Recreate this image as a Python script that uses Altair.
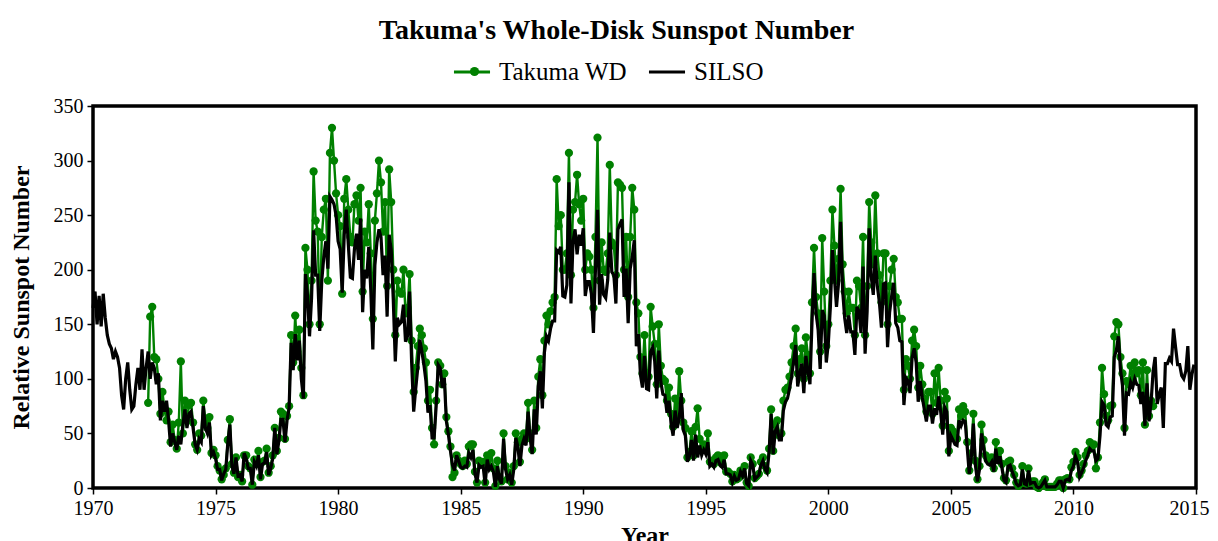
import altair as alt
import pandas as pd

SERIES = ["Takuma WD", "SILSO"]
COLORS = ["#008000", "#000000"]

# SILSO monthly values, Jan 1970 .. Dec 2014
silso_1970s = [
    165, 180, 150, 176, 148, 178, 156, 140, 132, 128, 118, 125,
    120, 110, 85, 72, 100, 115, 90, 72, 75, 95, 110, 90,
    127, 90, 110, 125, 100, 115, 110, 95, 105, 62, 80, 70,
    80, 62, 38, 50, 42, 35, 48, 40, 58, 72, 55, 68,
    70, 55, 40, 35, 45, 42, 75, 55, 50, 60, 30, 33,
    27, 17, 17, 7, 13, 17, 41, 58, 20, 13, 28, 11,
    12, 6, 32, 27, 18, 18, 3, 24, 20, 30, 8, 22,
    23, 33, 12, 18, 27, 55, 31, 43, 63, 63, 42, 62,
    73, 133, 108, 141, 117, 135, 100, 82, 196, 177, 139, 174,
    236, 195, 195, 144, 190, 212, 226, 201, 267, 264, 260, 250,
]
silso_1980s = [
    226, 219, 179, 232, 255, 223, 193, 192, 219, 233, 209, 247,
    161, 200, 192, 221, 181, 127, 204, 225, 237, 230, 195, 213,
    157, 232, 218, 173, 116, 156, 150, 152, 168, 134, 139, 180,
    115, 70, 91, 110, 136, 125, 113, 98, 69, 76, 46, 46,
    75, 113, 110, 92, 101, 61, 49, 34, 21, 16, 30, 25,
    19, 18, 20, 19, 32, 28, 35, 13, 5, 21, 19, 20,
    3, 26, 17, 20, 15, 1, 20, 8, 4, 45, 17, 8,
    12, 3, 17, 46, 38, 20, 39, 45, 39, 70, 46, 31,
    72, 49, 93, 107, 73, 124, 139, 135, 146, 153, 153, 218,
    216, 221, 176, 175, 186, 280, 169, 226, 237, 214, 232, 222,
]
silso_1990s = [
    238, 176, 189, 189, 178, 142, 201, 255, 168, 196, 177, 174,
    191, 234, 198, 195, 169, 237, 242, 246, 175, 201, 151, 201,
    212, 227, 130, 141, 104, 92, 121, 91, 90, 125, 129, 116,
    82, 126, 97, 86, 85, 69, 80, 59, 48, 71, 55, 64,
    87, 53, 48, 24, 29, 44, 25, 49, 28, 39, 30, 35,
    31, 42, 20, 22, 19, 25, 26, 21, 19, 26, 13, 13,
    12, 5, 11, 7, 8, 15, 11, 18, 4, 2, 25, 21,
    8, 10, 12, 21, 25, 17, 14, 33, 68, 31, 52, 56,
    44, 44, 71, 79, 82, 91, 102, 116, 131, 93, 105, 114,
    87, 121, 107, 95, 152, 197, 160, 145, 109, 163, 158, 115,
]
silso_2000s = [
    133, 166, 218, 192, 166, 188, 244, 181, 156, 142, 158, 143,
    143, 122, 166, 162, 142, 203, 123, 162, 238, 194, 177, 213,
    185, 170, 147, 187, 188, 129, 161, 176, 188, 151, 147, 135,
    134, 76, 101, 98, 87, 119, 128, 115, 79, 98, 83, 72,
    61, 75, 75, 59, 73, 67, 84, 70, 49, 74, 70, 29,
    48, 44, 40, 39, 62, 57, 62, 61, 37, 13, 28, 59,
    21, 6, 17, 50, 37, 25, 22, 21, 24, 15, 36, 22,
    29, 18, 7, 5, 20, 21, 15, 10, 4, 2, 3, 17,
    4, 3, 16, 4, 5, 5, 1, 0, 1, 4, 7, 1,
    1, 1, 1, 1, 3, 6, 6, 0, 7, 8, 7, 16,
]
silso_2010s = [
    20, 29, 24, 10, 14, 19, 25, 30, 36, 34, 34, 25,
    27, 48, 79, 76, 58, 56, 65, 66, 120, 126, 139, 109,
    94, 48, 87, 86, 97, 92, 100, 95, 94, 77, 88, 57,
    96, 61, 78, 107, 120, 77, 86, 92, 55, 114, 114, 119,
    116, 146, 129, 113, 113, 103, 100, 107, 130, 90, 104, 113,
]

# Takuma whole-disk monthly values, Apr 1972 .. Apr 2013
takuma_1970s = [
    78, 157, 166, 120, 118, 100, 68, 88, 72,
    62, 70, 42, 58, 44, 36, 60, 116, 50, 80, 62, 76,
    78, 60, 40, 35, 50, 48, 80, 62, 55, 65, 32, 35,
    30, 20, 16, 8, 12, 18, 44, 63, 22, 14, 28, 10,
    12, 6, 30, 30, 20, 18, 3, 26, 22, 34, 10, 24,
    25, 36, 14, 20, 30, 55, 34, 46, 70, 68, 45, 66,
    75, 140, 115, 158, 125, 145, 110, 85, 220, 200, 150, 190,
    290, 245, 235, 150, 230, 255, 265, 190, 307, 330, 300, 270,
]
takuma_1980s = [
    250, 240, 178, 265, 283, 255, 230, 225, 260, 268, 245, 275,
    180, 235, 225, 260, 215, 155, 245, 270, 300, 280, 235, 262,
    185, 292, 262, 200, 140, 190, 180, 178, 200, 160, 165, 196,
    135, 88, 110, 130, 146, 140, 128, 115, 80, 90, 55, 40,
    80, 115, 112, 95, 105, 65, 52, 38, 10, 14, 30, 25,
    22, 20, 25, 22, 38, 40, 40, 15, 5, 25, 22, 24,
    5, 30, 20, 32, 18, 2, 25, 10, 6, 50, 20, 8,
    14, 5, 20, 50, 42, 24, 45, 50, 45, 78, 50, 35,
    80, 55, 102, 118, 85, 135, 158, 150, 162, 170, 175, 283,
    240, 250, 200, 200, 215, 307, 195, 255, 262, 287, 260, 245,
]
takuma_1990s = [
    265, 200, 215, 212, 200, 165, 230, 321, 190, 225, 200, 198,
    215, 296, 225, 222, 195, 280, 278, 275, 200, 230, 175, 230,
    275, 255, 170, 160, 120, 105, 140, 105, 102, 166, 148, 132,
    95, 150, 112, 100, 98, 80, 92, 68, 56, 82, 65, 107,
    80, 60, 55, 28, 33, 52, 30, 56, 73, 45, 35, 40,
    35, 50, 24, 25, 22, 28, 30, 24, 22, 30, 15, 15,
    13, 6, 12, 8, 9, 16, 12, 20, 5, 2, 28, 22,
    9, 11, 13, 24, 28, 20, 16, 36, 72, 34, 58, 62,
    48, 50, 80, 90, 92, 102, 115, 130, 146, 105, 118, 128,
    100, 138, 122, 105, 170, 220, 175, 160, 125, 229, 180, 130,
]
takuma_2000s = [
    150, 190, 255, 222, 190, 210, 274, 205, 180, 160, 180, 165,
    165, 140, 190, 185, 165, 230, 140, 185, 262, 225, 205, 268,
    215, 195, 170, 215, 215, 150, 185, 200, 210, 175, 170, 155,
    155, 90, 118, 112, 100, 135, 145, 130, 92, 112, 95, 82,
    70, 88, 88, 68, 105, 78, 110, 80, 57, 88, 82, 34,
    55, 52, 46, 45, 72, 66, 75, 70, 42, 16, 32, 68,
    25, 8, 20, 58, 44, 30, 26, 25, 28, 18, 42, 26,
    34, 22, 9, 7, 24, 25, 18, 12, 5, 2, 4, 20,
    5, 4, 18, 5, 6, 6, 1, 0, 2, 5, 8, 1,
    1, 1, 1, 1, 4, 7, 7, 0, 8, 9, 8, 19,
]
takuma_2010s = [
    24, 33, 28, 12, 16, 22, 30, 34, 42, 38, 40, 18,
    28, 60, 110, 86, 66, 62, 75, 76, 139, 152, 150, 120,
    105, 55, 98, 95, 112, 100, 115, 105, 108, 85, 115, 58,
    108, 66, 80, 75,
]

silso_values = silso_1970s + silso_1980s + silso_1990s + silso_2000s + silso_2010s
takuma_values = takuma_1970s + takuma_1980s + takuma_1990s + takuma_2000s + takuma_2010s


def monthly_rows(values, year, month, name):
    rows = []
    for v in values:
        rows.append({"year": year + (month - 1) / 12.0, "value": v, "series": name})
        month += 1
        if month > 12:
            month = 1
            year += 1
    return rows


df = pd.DataFrame(
    monthly_rows(takuma_values, 1972, 4, "Takuma WD")
    + monthly_rows(silso_values, 1970, 1, "SILSO")
)

FONT = "Liberation Serif"

x = alt.X(
    "year:Q",
    scale=alt.Scale(domain=[1970, 2015], nice=False, zero=False),
    axis=alt.Axis(
        values=list(range(1970, 2016, 5)), format="d", title="Year",
        labelFlush=False, labelPadding=4, titlePadding=5,
        labelOffset={"condition": {"test": "datum.value == 2015", "value": -7}, "value": 0},
    ),
)
y = alt.Y(
    "value:Q",
    scale=alt.Scale(domain=[0, 350], nice=False),
    axis=alt.Axis(
        values=list(range(0, 351, 50)), title="Relative Sunspot Number",
        labelPadding=4, titlePadding=20,
    ),
)

stroke = alt.Stroke(
    "series:N",
    scale=alt.Scale(domain=SERIES, range=COLORS),
    legend=alt.Legend(
        title=None, orient="none", legendX=359, legendY=-54,
        direction="horizontal", symbolType="stroke", symbolSize=1300,
        symbolStrokeWidth=3, labelFont=FONT, labelFontSize=25,
        labelColor="black", labelOffset=7, columnPadding=14, padding=0,
    ),
)
dot_fill = alt.Fill(
    "series:N",
    scale=alt.Scale(domain=["Takuma WD"], range=["#008000"]),
    legend=alt.Legend(
        title=None, orient="none", legendX=376, legendY=-40,
        direction="horizontal", symbolType="circle", symbolSize=85,
        labelExpr="''", labelFontSize=1, labelOffset=0, padding=0,
    ),
)

base = alt.Chart(df)
tak = base.transform_filter(alt.datum.series == "Takuma WD")
sil = base.transform_filter(alt.datum.series == "SILSO")

tak_line = tak.mark_line(strokeWidth=2.4).encode(x=x, y=y, stroke=stroke)
tak_pts = tak.mark_point(filled=True, size=68, opacity=1).encode(x=x, y=y, fill=dot_fill)
sil_line = sil.mark_line(strokeWidth=3.2).encode(x=x, y=y, stroke=stroke)

chart = (
    alt.layer(tak_line, tak_pts, sil_line)
    .properties(
        width=1103,
        height=382,
        autosize=alt.AutoSizeParams(type="none"),
        padding={"left": 85, "top": 98, "right": 14, "bottom": 60},
        title=alt.TitleParams(
            text="Takuma's Whole-Disk Sunspot Number",
            font=FONT, fontSize=28, fontWeight="bold", color="black",
            anchor="middle", frame="group", offset=7, dx=-28,
        ),
    )
    .configure_view(stroke="black", strokeWidth=3.5)
    .configure_axis(
        labelFont=FONT, titleFont=FONT, labelColor="black", titleColor="black",
        tickColor="black", grid=False, domain=False, labelFontSize=20,
        titleFontSize=24, titleFontWeight="bold", tickSize=6, tickWidth=1.5,
    )
)

chart.save("out.html", embed_options={"renderer": "svg", "actions": False})
